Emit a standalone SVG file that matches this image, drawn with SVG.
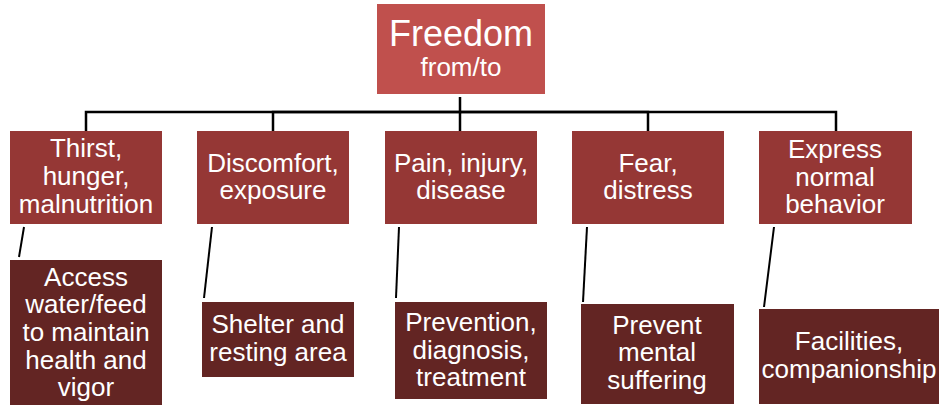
<svg xmlns="http://www.w3.org/2000/svg" width="940" height="406" viewBox="0 0 940 406">
<style>
.t{font-family:"Liberation Sans",Arial,sans-serif;fill:#fff;text-anchor:middle}
.l1{fill:#C0504D}
.l2{fill:#953735}
.l3{fill:#632523}
.c{stroke:#000;stroke-width:2.5;fill:none}
.s{stroke:#000;stroke-width:2;fill:none}
.f2{font-size:26px}
</style>
<rect width="940" height="406" fill="#fff"/>
<g id="connectors">
<path class="c" d="M460 97V112H86V131"/>
<path class="c" d="M460 112H273V131"/>
<path class="c" d="M460 112V131"/>
<path class="c" d="M460 112H648V131"/>
<path class="c" d="M460 112H836V131"/>
<path class="s" d="M24 227L19 257"/>
<path class="s" d="M212 227L204 298"/>
<path class="s" d="M399 227L396 298"/>
<path class="s" d="M587 227L583 302"/>
<path class="s" d="M774 227L764 307"/>
</g>
<g id="root">
<rect class="l1" x="377" y="4" width="168" height="90"/>
<text class="t" x="461" y="46" font-size="36">Freedom</text>
<text class="t" x="461" y="76" font-size="26">from/to</text>
</g>
<g id="n1">
<rect class="l2" x="10" y="131" width="152" height="93"/>
<text class="t f2" x="86"><tspan x="86" y="157">Thirst,</tspan><tspan x="86" y="185">hunger,</tspan><tspan x="86" y="213">malnutrition</tspan></text>
</g>
<g id="n2">
<rect class="l2" x="197" y="131" width="152" height="93"/>
<text class="t f2"><tspan x="273" y="172">Discomfort,</tspan><tspan x="273" y="199">exposure</tspan></text>
</g>
<g id="n3">
<rect class="l2" x="385" y="131" width="152" height="93"/>
<text class="t f2"><tspan x="461" y="172">Pain, injury,</tspan><tspan x="461" y="199">disease</tspan></text>
</g>
<g id="n4">
<rect class="l2" x="572" y="131" width="152" height="93"/>
<text class="t f2"><tspan x="648" y="172">Fear,</tspan><tspan x="648" y="199">distress</tspan></text>
</g>
<g id="n5">
<rect class="l2" x="759" y="131" width="153" height="93"/>
<text class="t f2"><tspan x="835" y="158">Express</tspan><tspan x="835" y="186">normal</tspan><tspan x="835" y="213">behavior</tspan></text>
</g>
<g id="m1">
<rect class="l3" x="10" y="260" width="152" height="145"/>
<text class="t f2"><tspan x="86" y="286">Access</tspan><tspan x="86" y="313">water/feed</tspan><tspan x="86" y="341">to maintain</tspan><tspan x="86" y="369">health and</tspan><tspan x="86" y="396">vigor</tspan></text>
</g>
<g id="m2">
<rect class="l3" x="202" y="302" width="152" height="75"/>
<text class="t f2"><tspan x="278" y="333">Shelter and</tspan><tspan x="278" y="361">resting area</tspan></text>
</g>
<g id="m3">
<rect class="l3" x="395" y="302" width="152" height="97"/>
<text class="t f2"><tspan x="471" y="331">Prevention,</tspan><tspan x="471" y="359">diagnosis,</tspan><tspan x="471" y="386">treatment</tspan></text>
</g>
<g id="m4">
<rect class="l3" x="581" y="304" width="153" height="100"/>
<text class="t f2"><tspan x="657" y="334">Prevent</tspan><tspan x="657" y="361">mental</tspan><tspan x="657" y="389">suffering</tspan></text>
</g>
<g id="m5">
<rect class="l3" x="759" y="309" width="180" height="95"/>
<text class="t f2"><tspan x="849" y="350">Facilities,</tspan><tspan x="849" y="378">companionship</tspan></text>
</g>
</svg>
